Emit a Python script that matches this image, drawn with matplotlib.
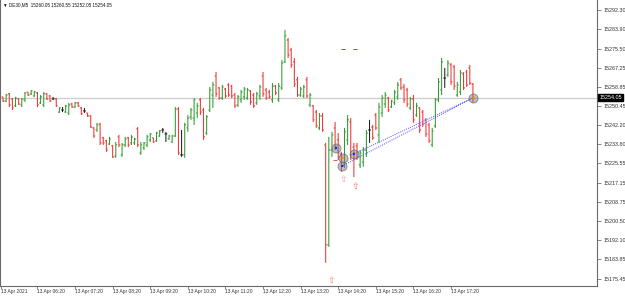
import numpy as np
import matplotlib.pyplot as plt

plt.rcParams['font.family'] = ['Liberation Sans', 'DejaVu Sans']

# DE30 M5 bars, 13 Apr 2021 05:25 .. 17:55
opens = [
    15254.5, 15252.7, 15255.8, 15253.6, 15250.6, 15253.6, 15251.0, 15253.2, 15256.6, 15255.8,
    15254.9, 15256.2, 15251.9, 15251.0, 15255.8, 15254.9, 15253.6, 15253.6, 15247.9, 15248.8,
    15247.9, 15247.5, 15251.4, 15250.1, 15251.9, 15249.7, 15248.4, 15247.5, 15246.2, 15241.0,
    15240.1, 15242.7, 15236.7, 15235.4, 15234.0, 15233.2, 15228.8, 15237.1, 15229.3, 15233.6,
    15236.7, 15234.5, 15234.5, 15240.6, 15230.1, 15232.3, 15233.6, 15235.8, 15236.7, 15235.4,
    15237.5, 15240.1, 15238.4, 15236.2, 15234.9, 15237.5, 15249.2, 15229.3, 15229.3, 15241.0,
    15245.8, 15245.3, 15247.5, 15253.2, 15248.8, 15238.8, 15248.8, 15255.3, 15263.6, 15258.4,
    15254.0, 15257.9, 15259.7, 15259.2, 15255.3, 15251.0, 15253.2, 15254.5, 15254.0, 15257.1,
    15255.3, 15251.9, 15254.9, 15263.6, 15257.5, 15256.6, 15253.2, 15259.2, 15253.2, 15258.4,
    15269.7, 15279.2, 15274.9, 15269.7, 15261.9, 15255.3, 15254.9, 15261.9, 15251.0, 15250.6,
    15247.9, 15241.0, 15246.2, 15233.6, 15190.2, 15231.4, 15241.0, 15235.8, 15229.3, 15224.9,
    15235.8, 15243.6, 15232.7, 15233.2, 15224.9, 15226.2, 15231.4, 15240.1, 15241.4, 15246.6,
    15238.0, 15247.5, 15251.4, 15254.0, 15250.1, 15251.9, 15254.5, 15261.9, 15258.8, 15257.5,
    15249.7, 15253.6, 15246.6, 15249.7, 15247.9, 15244.5, 15242.3, 15233.6, 15241.9, 15253.2,
    15257.5, 15262.7, 15264.0, 15268.4, 15267.5, 15255.3, 15256.6, 15264.5, 15265.3, 15267.1,
    15260.05]
highs = [
    15254.5, 15255.8, 15256.2, 15254.0, 15254.5, 15254.0, 15254.0, 15256.6, 15256.6, 15257.5,
    15257.1, 15256.6, 15255.3, 15256.6, 15256.2, 15255.3, 15254.5, 15254.0, 15250.1, 15250.1,
    15251.0, 15251.9, 15251.9, 15252.3, 15252.3, 15250.1, 15249.7, 15247.5, 15246.6, 15241.4,
    15243.2, 15243.2, 15237.1, 15235.8, 15237.1, 15233.6, 15234.9, 15238.0, 15234.5, 15237.1,
    15237.1, 15238.0, 15236.7, 15241.4, 15234.9, 15234.9, 15238.0, 15238.8, 15236.7, 15239.3,
    15240.1, 15241.0, 15239.3, 15238.0, 15238.0, 15250.1, 15250.1, 15240.1, 15243.2, 15246.6,
    15249.7, 15254.0, 15251.9, 15254.0, 15249.7, 15246.6, 15258.8, 15261.0, 15265.3, 15258.8,
    15259.7, 15258.4, 15260.5, 15259.7, 15256.2, 15255.3, 15257.5, 15258.8, 15258.4, 15257.5,
    15256.2, 15256.6, 15259.7, 15265.3, 15258.4, 15257.5, 15260.5, 15259.7, 15260.5, 15270.5,
    15283.6, 15280.1, 15275.8, 15271.4, 15263.2, 15258.8, 15259.7, 15263.2, 15256.2, 15251.0,
    15248.8, 15247.5, 15247.5, 15234.5, 15237.1, 15239.3, 15243.6, 15238.8, 15230.6, 15241.0,
    15246.6, 15245.3, 15234.5, 15234.5, 15231.4, 15232.7, 15240.1, 15244.5, 15242.3, 15247.5,
    15251.9, 15255.3, 15256.6, 15254.5, 15253.2, 15257.5, 15261.0, 15262.7, 15260.1, 15258.4,
    15254.5, 15255.3, 15251.9, 15250.1, 15248.8, 15245.3, 15243.2, 15241.0, 15254.0, 15262.7,
    15271.4, 15267.1, 15270.5, 15269.2, 15268.4, 15261.0, 15266.2, 15265.3, 15266.2, 15268.4,
    15260.55]
lows = [
    15252.3, 15252.3, 15250.1, 15248.8, 15250.1, 15251.0, 15250.1, 15252.3, 15254.9, 15255.3,
    15254.5, 15250.1, 15251.4, 15250.1, 15253.2, 15252.3, 15253.2, 15250.1, 15247.5, 15247.9,
    15247.5, 15246.6, 15249.7, 15249.7, 15250.1, 15246.6, 15247.5, 15245.8, 15241.0, 15236.7,
    15239.3, 15233.6, 15233.6, 15230.6, 15233.6, 15228.0, 15228.0, 15232.7, 15228.4, 15232.7,
    15232.7, 15233.6, 15233.6, 15232.7, 15229.3, 15231.4, 15232.7, 15234.9, 15234.5, 15234.9,
    15237.1, 15238.8, 15234.9, 15235.8, 15234.5, 15237.1, 15229.3, 15228.4, 15228.0, 15239.3,
    15244.5, 15242.3, 15245.3, 15246.6, 15235.8, 15238.0, 15247.9, 15249.7, 15254.5, 15253.2,
    15253.2, 15254.0, 15254.5, 15254.0, 15249.7, 15250.1, 15251.9, 15253.2, 15253.2, 15251.0,
    15249.7, 15251.0, 15253.2, 15254.5, 15253.2, 15253.6, 15251.9, 15255.3, 15252.3, 15257.5,
    15269.2, 15271.4, 15267.1, 15258.8, 15254.5, 15254.5, 15254.0, 15254.0, 15250.1, 15243.6,
    15241.0, 15240.1, 15239.3, 15182.4, 15189.3, 15228.4, 15231.4, 15227.1, 15221.9, 15223.6,
    15233.6, 15227.1, 15219.7, 15227.1, 15223.6, 15224.1, 15228.4, 15234.5, 15235.8, 15240.1,
    15234.5, 15245.8, 15249.7, 15247.9, 15249.7, 15251.0, 15253.2, 15257.5, 15251.9, 15250.1,
    15248.8, 15243.2, 15245.8, 15238.8, 15241.4, 15237.1, 15234.5, 15232.7, 15241.0, 15252.3,
    15255.3, 15258.4, 15263.2, 15259.7, 15257.5, 15254.5, 15255.3, 15257.5, 15258.8, 15259.7,
    15252.05]
closes = [
    15252.7, 15255.3, 15251.0, 15249.7, 15254.0, 15251.4, 15253.6, 15256.2, 15255.3, 15257.1,
    15256.6, 15251.0, 15254.5, 15255.8, 15253.6, 15252.7, 15253.6, 15250.6, 15249.7, 15248.8,
    15250.6, 15251.0, 15250.1, 15251.9, 15250.6, 15247.1, 15248.4, 15246.2, 15241.4, 15237.5,
    15242.3, 15234.5, 15234.5, 15231.4, 15236.2, 15228.4, 15233.6, 15233.6, 15233.6, 15236.2,
    15233.6, 15237.1, 15236.2, 15233.6, 15233.6, 15234.5, 15237.1, 15238.4, 15234.9, 15238.8,
    15239.7, 15240.1, 15238.4, 15237.5, 15237.5, 15249.2, 15230.1, 15229.3, 15242.3, 15245.3,
    15248.8, 15253.2, 15250.6, 15247.9, 15237.1, 15245.8, 15257.5, 15259.7, 15255.8, 15254.0,
    15258.8, 15254.9, 15255.3, 15254.9, 15250.6, 15254.5, 15256.6, 15257.9, 15257.5, 15252.3,
    15250.6, 15255.8, 15258.8, 15255.8, 15254.0, 15254.5, 15259.2, 15256.2, 15259.2, 15269.2,
    15281.0, 15272.7, 15268.4, 15260.1, 15255.3, 15257.9, 15258.8, 15254.9, 15255.3, 15244.5,
    15241.9, 15246.2, 15240.1, 15190.2, 15231.4, 15238.0, 15233.2, 15228.4, 15224.5, 15239.3,
    15244.5, 15229.3, 15228.0, 15228.4, 15230.1, 15231.4, 15238.8, 15240.1, 15236.7, 15241.0,
    15250.1, 15254.0, 15255.3, 15248.8, 15252.7, 15256.6, 15259.7, 15258.4, 15253.2, 15251.4,
    15253.6, 15244.5, 15250.6, 15240.1, 15242.7, 15238.4, 15235.4, 15239.7, 15253.2, 15261.0,
    15269.7, 15262.7, 15269.2, 15261.0, 15259.2, 15259.7, 15264.9, 15258.4, 15259.7, 15260.5,
    15254.05]

price_levels = [15292.30, 15283.90, 15275.50, 15267.25, 15258.85, 15250.45, 15242.20,
                15233.80, 15225.55, 15217.15, 15208.75, 15200.50, 15192.10, 15183.85, 15175.45]
time_pos = [-0.6, 11, 23, 35, 47, 59, 71, 83, 95, 107, 119, 131, 143]
time_labels = ["13 Apr 2021", "13 Apr 06:20", "13 Apr 07:20", "13 Apr 08:20", "13 Apr 09:20",
               "13 Apr 10:20", "13 Apr 11:20", "13 Apr 12:20", "13 Apr 13:20", "13 Apr 14:20",
               "13 Apr 15:20", "13 Apr 16:20", "13 Apr 17:20"]

# object markers drawn on the chart
circle_x = [106.3, 108.5, 108.3, 112.0, 150]
circle_y = [15232.3, 15228.0, 15224.5, 15229.7, 15254.05]
circle_dot = ['#1a1aff', '#ff9900', '#1a1aff', '#1a1aff', '#ff7a00']
trend_lines = [((108.3, 15224.5), (150, 15254.05)),
               ((112.0, 15229.7), (150, 15254.05)),
               ((106.3, 15232.3), (108.5, 15228.0))]
arrow_x = [108.5, 112.3, 104.7]
arrow_y = [15218.5, 15215.4, 15174.5]
arrow_col = ['#ff9a9a', '#ff6a6a', '#ff7a7a']

o = np.array(opens)
h = np.array(highs)
l = np.array(lows)
c = np.array(closes)
x = np.arange(len(o))

up, down, flat = '#2f9a2f', '#ee3434', '#202020'
colors = [up if cc > oo else (down if cc < oo else flat) for oo, cc in zip(o, c)]

fig = plt.figure(figsize=(6.25, 2.96), dpi=100)
ax = fig.add_axes([0, 10 / 296, 597 / 625, 286 / 296])

ax.axhline(c[-1], color='#cccccc', lw=0.9, zorder=0)

ax.vlines(x, l, h, colors=colors, linewidth=0.75, snap=False)
ax.hlines(o, x - 0.45, x, colors=colors, linewidth=0.75, snap=False)
ax.hlines(c, x, x + 0.45, colors=colors, linewidth=0.75, snap=False)

for (x0, y0), (x1, y1) in trend_lines:
    ax.plot([x0, x1], [y0, y1], color='#4a4aff', lw=0.7, ls=(0, (1, 1.2)), zorder=3)

ax.scatter(circle_x, circle_y, s=42, facecolor=(0.5, 0.5, 0.5, 0.5),
           edgecolor=(0.4, 0.4, 0.4, 0.75), linewidth=0.6, zorder=4)
ax.scatter(circle_x, circle_y, s=3, c=circle_dot, linewidth=0, zorder=5)

ax.plot([108.5, 112.3], [15275.3, 15275.3], ls='none', marker='_', ms=3, mew=0.7,
        color='#4a4aff')
ax.plot([105.9], [15227.0], ls='none', marker='_', ms=2.5, mew=0.7, color='#ff5050')

for ax_, ay, ac in zip(arrow_x, arrow_y, arrow_col):
    ax.text(ax_, ay, "⇧", color=ac, fontsize=6.5, ha='center', va='center',
            family=['DejaVu Sans'])

ax.set_xlim(-0.957, 189.6)
ax.set_ylim(15172.3, 15296.6)

ax.yaxis.tick_right()
ax.set_yticks(price_levels)
ax.set_yticklabels([f"{v:.2f}" for v in price_levels])
ax.tick_params(axis='y', direction='out', length=3, width=0.5, color='#555555',
               labelsize=3.9, pad=1.5, labelcolor='#333333')
ax.set_xticks(time_pos)
ax.set_xticklabels(time_labels, ha='left')
ax.tick_params(axis='x', direction='out', length=2, width=0.5, color='#555555',
               labelsize=3.5, pad=0.3, labelcolor='#333333')

for side in ['left', 'right', 'bottom']:
    ax.spines[side].set_color('#6a6a6a')
    ax.spines[side].set_linewidth(0.8)
ax.spines['top'].set_visible(False)

ax.text(1.004, c[-1], f"{c[-1]:.2f}", transform=ax.get_yaxis_transform(),
        fontsize=3.9, color='white', va='center', ha='left',
        bbox=dict(facecolor='black', edgecolor='black', pad=0.7))

fig.text(3 / 625, 1 - 5 / 296,
         f"▼ DE30,M5  {o[-1]:.2f} {h[-1]:.2f} {l[-1]:.2f} {c[-1]:.2f}",
         fontsize=3.3, va='center', ha='left', color='#111111')

fig.savefig("out.png", dpi=100, facecolor='white')
